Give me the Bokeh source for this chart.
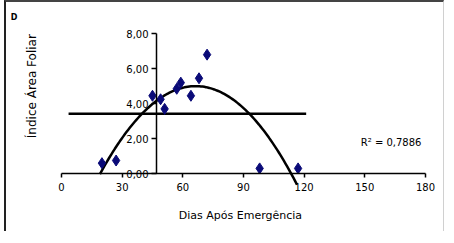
import numpy as np
from bokeh.plotting import figure
from bokeh.models import Range1d, FixedTicker, Label
from bokeh.embed import file_html
from bokeh.resources import INLINE

# ---- data ----
dias = [20, 27, 45, 49, 51, 57, 59, 64, 68, 72, 98, 117]
iaf = [0.6, 0.75, 4.45, 4.25, 3.7, 4.85, 5.2, 4.45, 5.45, 6.8, 0.3, 0.3]

ref_x = [3.5, 121]
ref_y = [3.43, 3.43]

x_ticks = [0, 30, 60, 90, 120, 150, 180]
y_ticks = [0, 2, 4, 6, 8]
y_tick_labels = ["0,00", "2,00", "4,00", "6,00", "8,00"]
r2_text = "R² = 0,7886"
x_title = "Dias Após Emergência"
y_title = "Índice Área Foliar"
panel_tag = "D"

# quadratic trend (least squares, as the spreadsheet trendline)
coef = np.polyfit(dias, iaf, 2)
tx = np.linspace(19, 116.5, 120)
ty = np.polyval(coef, tx)

FONT = "DejaVu Sans"

p = figure(width=440, height=231, output_backend="svg", toolbar_location=None,
           x_range=Range1d(-27.2, 190.4), y_range=Range1d(-3.42, 9.78),
           min_border=0, min_border_left=0, min_border_right=0,
           min_border_top=0, min_border_bottom=0,
           background_fill_color="white", border_fill_color="white")
p.outline_line_color = None
p.grid.visible = False
p.styles = {"margin-left": "4px",
            "border-top": "2px solid #444", "border-left": "2px solid #222",
            "border-right": "1px solid #d0d0d0"}

# axes
p.xaxis.fixed_location = 0
p.xaxis.bounds = (0, 180)
p.xaxis.ticker = FixedTicker(ticks=x_ticks)
p.xaxis.minor_tick_line_color = None
p.xaxis.major_tick_in = 0
p.xaxis.major_tick_out = 4
p.xaxis.major_label_standoff = 5
p.yaxis.fixed_location = 47
p.yaxis.bounds = (0, 8)
p.yaxis.ticker = FixedTicker(ticks=y_ticks)
p.yaxis.major_label_overrides = {t: l for t, l in zip(y_ticks, y_tick_labels)}
p.yaxis.minor_tick_line_color = None
p.yaxis.major_tick_in = 0
p.yaxis.major_tick_out = 5
p.yaxis.major_label_standoff = 3
for ax in (p.xaxis, p.yaxis):
    ax.axis_line_color = "black"
    ax.axis_line_width = 1.5
    ax.major_tick_line_color = "black"
    ax.major_tick_line_width = 1.5
    ax.major_label_text_font = FONT
    ax.major_label_text_font_size = "10px"
    ax.major_label_text_color = "black"

# horizontal reference line
p.line(ref_x, ref_y, line_color="black", line_width=2.5)

# trend
p.line(tx, ty, line_color="black", line_width=2.5)

# points
p.scatter(dias, iaf, marker="diamond", size=11, fill_color="#0a0a78", line_color="#0a0a78")

p.add_layout(Label(x=178, y=1.77, text=r2_text, text_font=FONT, text_font_size="10px",
                   text_align="right", text_baseline="middle", text_color="black"))
p.add_layout(Label(x=88.5, y=-2.4, text=x_title, text_font=FONT, text_font_size="11px",
                   text_align="center", text_baseline="middle", text_color="black"))
p.add_layout(Label(x=-14.8, y=5.0, text=y_title, text_font=FONT, text_font_size="12px",
                   text_align="center", text_baseline="middle", angle=np.pi / 2,
                   text_color="black"))
p.add_layout(Label(x=-23.5, y=8.9, text=panel_tag, text_font=FONT, text_font_size="8px",
                   text_font_style="bold", text_align="center", text_baseline="middle",
                   text_color="black"))

open("out.html", "w").write(file_html(p, INLINE))
